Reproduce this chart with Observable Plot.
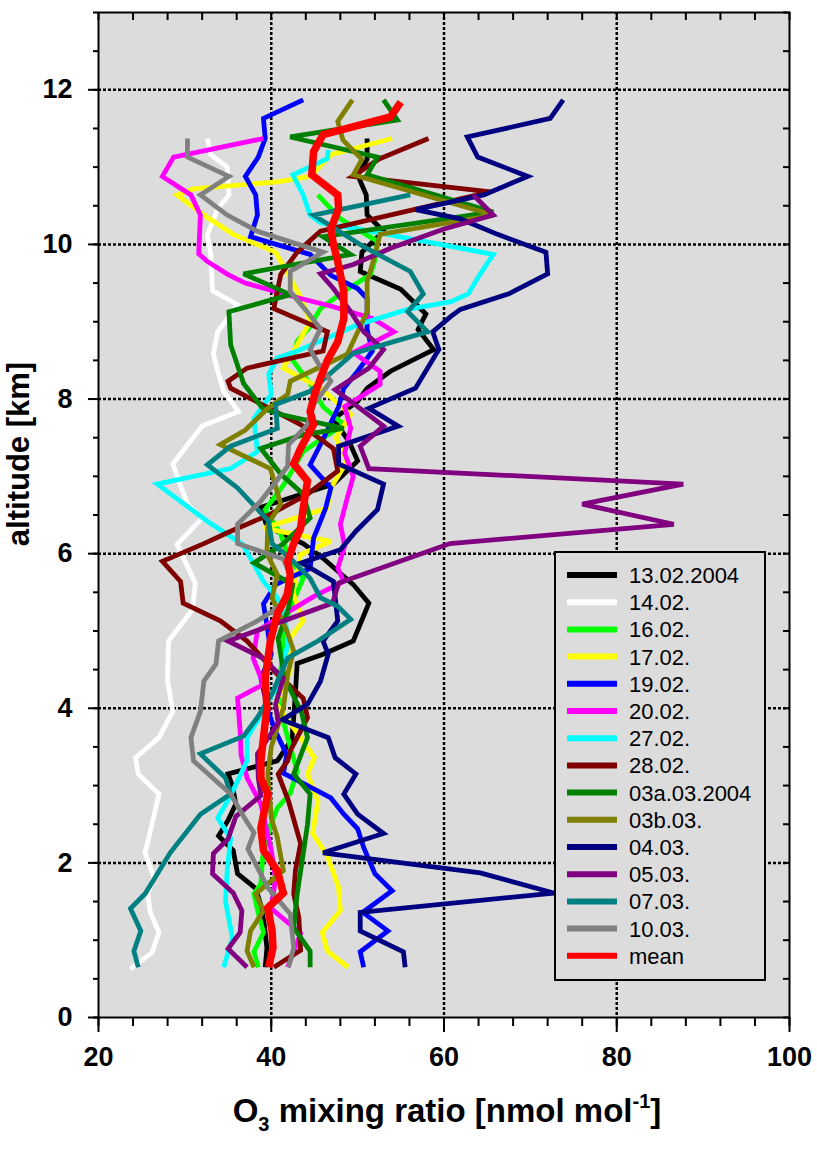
<!DOCTYPE html>
<html><head><meta charset="utf-8">
<script src="https://cdn.jsdelivr.net/npm/d3@7"></script>
<script src="https://cdn.jsdelivr.net/npm/@observablehq/plot@0.6"></script>
<style>
html,body{margin:0;padding:0;background:#fff;}
#chart{width:817px;height:1153px;overflow:hidden;}
</style></head><body><div id="chart"></div>
<script>
// Each profile: [altitude (km), O3 mixing ratio (nmol/mol)]
const p1302 = [[0.65,39.3],[0.9,39.5],[1.2,39.2],[1.45,38.8],[1.67,38.2],[1.86,36.1],[2.16,35.6],[2.35,33.9],[2.55,35.0],[2.76,35.9],[3.0,35.5],[3.15,35.0],[3.32,40.7],[3.6,42.4],[3.88,42.6],[4.2,42.8],[4.58,43.0],[4.7,46.0],[4.87,49.5],[5.36,51.3],[5.6,49.5],[5.94,46.0],[6.13,43.7],[6.35,39.5],[6.6,38.8],[6.9,47.2],[7.2,50.0],[7.45,49.0],[7.74,47.2],[7.97,50.0],[8.14,51.1],[8.36,53.8],[8.64,58.8],[8.9,57.0],[9.1,57.9],[9.42,55.0],[9.65,50.3],[9.9,50.5],[10.17,53.0],[10.38,51.1],[10.64,51.0],[10.9,50.0],[11.1,51.1],[11.37,51.1]];
const p1402 = [[0.63,23.7],[0.84,26.2],[1.1,27.0],[1.36,26.0],[1.6,25.7],[1.81,26.4],[2.13,25.4],[2.41,26.0],[2.89,27.0],[3.15,24.6],[3.36,24.3],[3.62,27.0],[3.96,28.6],[4.35,28.0],[4.87,28.1],[5.28,30.9],[5.62,31.2],[6.12,29.1],[6.46,32.0],[6.64,30.3],[7.16,28.6],[7.65,32.0],[7.84,36.2],[8.1,34.5],[8.36,33.8],[8.59,33.3],[8.87,33.8],[9.22,36.1],[9.4,33.2],[9.87,33.0],[10.12,32.6],[10.46,33.8],[10.64,35.1],[11.0,34.9],[11.16,33.0],[11.37,32.6]];
const p1602 = [[0.65,38.5],[0.85,38.0],[1.1,39.1],[1.35,38.5],[1.6,38.0],[1.73,38.8],[2.07,39.0],[2.48,39.9],[2.71,40.7],[2.9,42.2],[3.19,43.0],[3.62,41.9],[4.0,41.0],[4.31,40.7],[4.7,41.5],[5.0,41.3],[5.3,42.2],[5.68,43.7],[5.95,42.0],[6.25,41.1],[6.57,39.3],[6.9,41.5],[7.32,43.7],[7.45,45.4],[7.67,48.4],[7.9,46.0],[8.2,44.5],[8.5,42.5],[8.75,43.0],[8.91,44.3],[9.17,45.7],[9.39,48.4],[9.61,51.5],[9.8,52.0],[10.04,52.3],[10.33,48.0],[10.64,45.4]];
const p1702 = [[0.65,48.9],[0.86,46.5],[1.1,45.9],[1.38,48.0],[1.68,47.8],[2.09,46.5],[2.38,44.8],[2.8,45.4],[3.15,44.2],[3.36,45.0],[3.62,43.4],[4.07,40.5],[4.48,42.2],[4.87,41.9],[5.13,43.7],[5.5,42.5],[5.99,43.4],[6.16,46.9],[6.33,39.1],[6.59,46.5],[6.85,46.9],[7.2,48.8],[7.5,47.5],[7.8,49.2],[8.14,45.7],[8.4,41.4],[8.7,43.0],[9.0,44.5],[9.3,43.5],[9.6,42.0],[9.9,40.5],[10.13,35.6],[10.38,32.2],[10.64,29.1],[10.72,31.0],[10.81,40.7],[10.88,44.5],[11.16,46.9],[11.37,54.0]];
const p1902 = [[0.65,50.7],[0.85,50.3],[1.12,53.5],[1.36,50.6],[1.64,54.0],[1.86,52.0],[2.2,50.7],[2.44,50.0],[2.63,48.4],[2.84,46.9],[3.0,44.2],[3.16,41.4],[3.4,41.8],[3.7,40.5],[3.94,39.7],[4.39,38.8],[4.7,40.0],[5.0,39.6],[5.35,39.1],[5.6,40.5],[5.81,44.5],[6.2,44.9],[6.42,45.7],[6.59,46.3],[6.85,46.9],[7.15,44.5],[7.48,46.0],[7.9,47.8],[8.14,48.4],[8.36,50.0],[8.62,51.7],[8.9,51.1],[9.3,51.1],[9.43,50.0],[9.6,46.9],[9.87,44.5],[10.1,37.6],[10.38,38.4],[10.64,38.2],[10.88,37.0],[11.13,38.5],[11.37,39.3],[11.63,39.1],[11.87,43.7]];
const p2002 = [[0.65,41.9],[1.09,43.4],[1.41,40.0],[1.8,40.5],[2.16,40.0],[2.76,38.8],[3.1,37.2],[3.4,36.5],[3.7,36.4],[4.13,36.1],[4.31,39.1],[4.65,37.9],[5.0,38.4],[5.25,42.0],[5.45,45.0],[5.64,48.4],[5.81,47.7],[6.1,48.5],[6.38,48.0],[6.72,48.8],[7.0,49.5],[7.3,48.5],[7.62,49.2],[7.9,48.5],[8.19,52.6],[8.36,52.6],[8.6,49.5],[8.87,54.2],[9.04,51.8],[9.2,47.0],[9.3,43.4],[9.5,37.0],[9.61,35.0],[9.78,32.6],[9.88,31.6],[10.38,31.8],[10.64,30.7],[10.88,27.4],[11.13,28.7],[11.37,39.1]];
const p2702 = [[0.65,34.5],[1.03,35.5],[1.51,34.7],[1.9,34.9],[2.32,35.3],[2.58,33.8],[2.87,35.3],[3.32,37.2],[3.62,37.2],[3.95,39.0],[4.35,41.0],[4.87,42.0],[5.2,41.5],[5.43,40.7],[5.64,39.1],[6.12,36.7],[6.42,32.6],[6.9,26.8],[7.1,35.3],[7.32,38.4],[7.75,38.0],[8.06,40.0],[8.32,39.7],[8.53,40.7],[8.62,43.0],[8.96,50.0],[9.16,55.8],[9.26,60.8],[9.36,62.8],[9.62,64.2],[9.87,65.7],[10.0,59.6],[10.2,50.0],[10.28,45.7],[10.38,44.5],[10.64,43.7],[10.9,42.5],[11.11,46.5],[11.22,46.6]];
const p2802 = [[0.65,40.3],[0.87,43.4],[1.29,43.2],[1.6,42.6],[1.9,42.8],[2.25,43.4],[2.8,42.0],[3.15,40.8],[3.32,41.9],[3.45,42.2],[3.88,44.2],[4.13,43.7],[4.44,40.7],[4.87,37.2],[5.13,34.1],[5.36,29.8],[5.64,29.5],[5.9,27.4],[6.13,32.2],[6.29,35.3],[6.51,39.9],[6.77,44.2],[7.07,47.7],[7.36,47.2],[7.67,43.4],[8.14,35.3],[8.23,35.0],[8.4,37.2],[8.62,46.0],[8.87,46.5],[9.17,40.3],[9.61,41.1],[9.9,43.0],[10.17,45.7],[10.68,65.4],[10.88,49.4],[11.1,52.4],[11.37,58.2]];
const p0303a = [[0.65,44.5],[0.86,44.5],[1.16,42.6],[1.6,43.0],[2.12,43.7],[2.5,44.2],[2.89,44.5],[3.15,42.6],[3.62,44.2],[3.95,43.5],[4.4,41.5],[4.9,40.8],[5.3,42.0],[5.6,42.5],[5.88,38.0],[6.12,41.3],[6.46,44.5],[6.77,43.7],[7.03,41.1],[7.36,38.8],[7.54,43.7],[7.62,48.4],[7.8,41.1],[7.88,39.0],[8.2,36.8],[8.7,35.3],[9.13,35.1],[9.35,42.2],[9.62,36.8],[9.87,49.2],[10.1,46.0],[10.42,65.7],[10.9,51.1],[11.13,52.3],[11.39,42.2],[11.61,54.6],[11.87,53.0]];
const p0303b = [[0.65,38.0],[0.86,37.2],[1.12,37.6],[1.38,39.1],[1.6,38.2],[1.9,41.4],[2.33,40.7],[2.58,40.0],[3.15,39.6],[3.5,40.0],[4.0,41.4],[4.44,41.9],[4.74,42.6],[5.0,41.8],[5.43,40.1],[5.73,40.7],[6.0,39.5],[6.38,39.6],[6.64,41.1],[7.1,39.9],[7.41,34.1],[7.6,37.0],[7.88,39.6],[8.06,41.9],[8.23,42.2],[8.58,48.8],[9.13,51.1],[9.52,51.1],[9.78,51.8],[10.13,52.6],[10.38,65.7],[10.9,49.5],[11.1,50.5],[11.35,48.3],[11.59,47.7],[11.87,49.4]];
const p0403 = [[0.65,55.5],[0.85,55.3],[1.12,50.3],[1.36,50.3],[1.61,72.7],[1.87,64.2],[2.13,46.0],[2.38,53.0],[2.63,50.0],[2.89,48.4],[3.15,49.8],[3.36,47.4],[3.62,46.6],[3.85,41.3],[4.05,44.2],[4.35,45.7],[4.7,46.6],[4.87,46.0],[5.13,47.7],[5.64,47.2],[5.88,43.5],[6.05,48.0],[6.29,49.8],[6.57,52.3],[6.9,53.0],[7.16,47.8],[7.39,47.8],[7.65,54.7],[7.88,51.3],[8.14,56.7],[8.64,59.4],[8.87,58.7],[9.07,60.8],[9.16,61.9],[9.36,67.5],[9.62,72.0],[9.9,71.8],[10.13,66.2],[10.33,61.9],[10.45,56.7],[10.64,64.6],[10.88,69.7],[11.13,63.9],[11.39,62.7],[11.63,72.3],[11.87,73.8]];
const p0503 = [[0.65,37.2],[0.89,35.0],[1.1,36.4],[1.38,36.6],[1.61,35.6],[1.86,33.2],[2.12,33.3],[2.31,35.0],[2.6,35.9],[2.87,38.8],[3.1,38.5],[3.41,38.4],[3.81,40.8],[4.05,40.5],[4.39,41.4],[4.65,39.0],[4.87,35.0],[5.36,47.1],[5.62,47.8],[6.13,60.7],[6.38,86.6],[6.64,76.0],[6.9,87.7],[7.1,51.3],[7.39,50.3],[7.65,53.0],[8.12,47.4],[8.4,51.3],[8.64,53.0],[8.87,50.7],[9.13,49.2],[9.43,47.2],[9.62,45.7],[9.74,49.5],[9.95,53.8],[10.2,60.0],[10.38,65.7],[10.64,63.4]];
const p0703 = [[0.65,24.6],[0.86,24.1],[1.12,24.9],[1.41,23.7],[1.6,25.4],[2.13,28.3],[2.63,31.8],[2.89,35.3],[3.1,34.7],[3.41,31.8],[3.64,36.8],[3.88,38.4],[4.19,40.1],[4.65,41.9],[4.87,45.4],[5.15,49.2],[5.32,47.7],[5.43,45.7],[5.68,44.5],[5.94,42.2],[6.13,40.1],[6.42,39.7],[6.85,36.1],[7.15,32.6],[7.39,35.3],[7.62,40.7],[7.93,40.5],[8.1,44.5],[8.25,46.0],[8.59,49.5],[8.87,58.1],[9.13,55.8],[9.36,57.6],[9.65,56.1],[9.97,50.7],[10.38,44.9],[10.64,56.1]];
const p1003 = [[0.65,42.0],[0.9,42.6],[1.34,42.2],[1.68,39.6],[2.18,37.3],[2.39,38.0],[2.6,36.8],[2.89,35.3],[3.32,31.0],[3.62,30.7],[3.96,31.8],[4.35,32.2],[4.57,33.6],[4.87,33.9],[5.13,38.4],[5.35,41.4],[5.73,42.2],[5.93,41.4],[6.13,36.1],[6.38,36.1],[6.68,38.8],[7.13,41.9],[7.41,42.0],[7.67,44.2],[7.93,44.9],[8.23,46.9],[8.45,45.5],[8.64,44.5],[8.91,45.7],[9.15,44.0],[9.39,42.2],[9.65,42.2],[9.9,46.0],[10.17,38.4],[10.38,34.9],[10.64,31.8],[10.88,35.1],[11.13,30.3],[11.37,30.3]];
const pMean = [[0.65,39.7],[0.9,40.2],[1.12,40.1],[1.42,39.6],[1.61,41.4],[1.9,40.7],[2.16,39.1],[2.45,38.8],[2.89,39.6],[3.1,38.8],[3.32,38.8],[3.62,39.1],[4.0,39.5],[4.39,39.3],[4.87,39.9],[5.22,40.7],[5.48,41.9],[5.73,42.2],[5.9,41.9],[6.13,42.6],[6.33,43.4],[6.59,43.7],[6.94,44.2],[7.16,42.6],[7.36,43.4],[7.67,44.9],[7.84,44.5],[8.05,45.0],[8.27,45.7],[8.5,46.5],[8.74,47.7],[9.04,48.4],[9.39,48.4],[9.78,47.7],[10.0,47.2],[10.2,46.9],[10.46,47.8],[10.64,47.7],[10.9,44.7],[11.2,44.9],[11.42,46.0],[11.65,53.8],[11.84,55.0]];

const seriesNames = ["13.02.2004","14.02.","16.02.","17.02.","19.02.","20.02.","27.02.","28.02.","03a.03.2004","03b.03.","04.03.","05.03.","07.03.","10.03.","mean"];
const seriesColors = ["#000000","#ffffff","#00ff00","#ffff00","#0000ff","#ff00ff","#00ffff","#800000","#008000","#808000","#000080","#800080","#008080","#808080","#ff0000"];
const profiles = [p1302,p1402,p1602,p1702,p1902,p2002,p2702,p2802,p0303a,p0303b,p0403,p0503,p0703,p1003,pMean];

const xTickValues = [20,40,60,80,100];
const xMinorTicks = d3.range(20, 100.1, 4);
const xGridValues = [40,60,80];
const yTickValues = [0,2,4,6,8,10,12];
const yMinorTicks = d3.range(0, 13.01, 0.5);
const yGridValues = [2,4,6,8,10,12];

const W = 817, H = 1153, mL = 98, mR = 28, mT = 12, mB = 136;
const plotW = W - mL - mR, plotH = H - mT - mB;
const font = "'Liberation Sans', Arial, Helvetica, sans-serif";

const lineMarks = profiles.map((p, i) => Plot.line(p, {
  x: d => d[1], y: d => d[0],
  stroke: seriesColors[i],
  strokeWidth: i === profiles.length - 1 ? 7.5 : 4.8,
  strokeLinejoin: "miter", strokeMiterlimit: 3, strokeLinecap: "butt"
}));

const chart = Plot.plot({
  width: W, height: H,
  marginLeft: mL, marginRight: mR, marginTop: mT, marginBottom: mB,
  x: {domain: [20, 100]},
  y: {domain: [0, 13]},
  style: {background: "#ffffff", overflow: "visible", fontFamily: font},
  marks: [
    Plot.frame({fill: "#dcdcdc", stroke: "none"}),
    Plot.ruleX(xGridValues, {stroke: "#000", strokeWidth: 2.5, strokeDasharray: "3,2"}),
    Plot.ruleY(yGridValues, {stroke: "#000", strokeWidth: 2.5, strokeDasharray: "3,2"}),
    ...lineMarks,
    Plot.frame({stroke: "#000", strokeWidth: 2, fill: "none"}),
    Plot.ruleX(xMinorTicks, {stroke: "#000", strokeWidth: 2, insetBottom: plotH - 8}),
    Plot.ruleY(yMinorTicks, {stroke: "#000", strokeWidth: 2, insetLeft: plotW - 6}),
    Plot.axisX(xMinorTicks, {anchor: "bottom", tickSize: 9, strokeWidth: 2, tickFormat: () => "", label: null}),
    Plot.axisX(xTickValues, {anchor: "bottom", tickSize: 15, tickPadding: 14, strokeWidth: 2, tickFormat: d3.format("d"),
      fontSize: 27, fontWeight: "bold", fontFamily: font, fill: "#000", label: null}),
    Plot.axisY(yMinorTicks, {anchor: "left", tickSize: 5, strokeWidth: 2, tickFormat: () => "", label: null}),
    Plot.axisY(yTickValues, {anchor: "left", tickSize: 10, tickPadding: 16, strokeWidth: 2, tickFormat: d3.format("d"),
      fontSize: 27, fontWeight: "bold", fontFamily: font, fill: "#000", label: null})
  ]
});

const svg = d3.select(chart);

// Legend
const lg = svg.append("g").attr("transform", "translate(555,552)");
lg.append("rect").attr("x", 0).attr("y", 0).attr("width", 210).attr("height", 428)
  .attr("fill", "#dcdcdc").attr("stroke", "#000").attr("stroke-width", 2);
seriesNames.forEach((name, i) => {
  const yy = 23 + i * 27.2;
  lg.append("line").attr("x1", 12).attr("x2", 62).attr("y1", yy).attr("y2", yy)
    .attr("stroke", seriesColors[i]).attr("stroke-width", 6);
  lg.append("text").attr("x", 74).attr("y", yy).attr("dy", "0.36em").attr("text-anchor", "start")
    .attr("font-family", font).attr("font-size", 22).attr("fill", "#000").text(name);
});

// Axis titles
const xt = svg.append("text").attr("x", 447).attr("y", 1122).attr("text-anchor", "middle")
  .attr("font-family", font).attr("font-weight", "bold").attr("font-size", 33).attr("fill", "#000");
xt.append("tspan").text("O");
xt.append("tspan").attr("font-size", 20).attr("dy", 9).text("3");
xt.append("tspan").attr("dy", -9).text(" mixing ratio [nmol mol");
xt.append("tspan").attr("font-size", 20).attr("dy", -14).text("-1");
xt.append("tspan").attr("dy", 14).text("]");

svg.append("text").attr("transform", "translate(29,454) rotate(-90)").attr("text-anchor", "middle")
  .attr("font-family", font).attr("font-weight", "bold").attr("font-size", 31).attr("fill", "#000")
  .text("altitude [km]");

document.getElementById("chart").appendChild(chart);
</script>
</body></html>
